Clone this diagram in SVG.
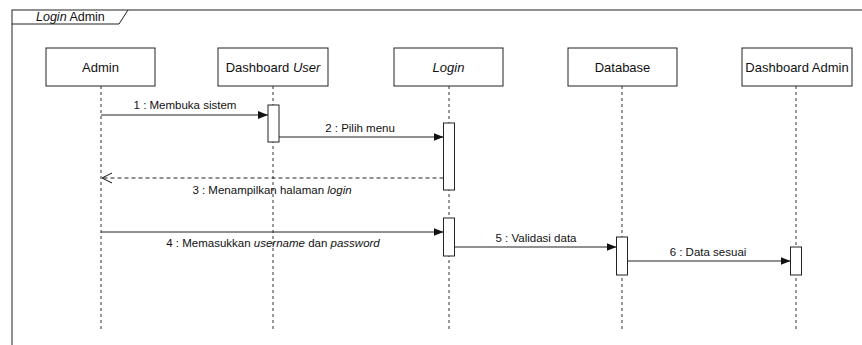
<svg xmlns="http://www.w3.org/2000/svg" width="862" height="345" viewBox="0 0 862 345">
<style>
.box{fill:#fff;stroke:#222;stroke-width:1}
.act{fill:#fff;stroke:#222;stroke-width:1}
.life{stroke:#333;stroke-width:1;stroke-dasharray:3 3;fill:none}
.msg{stroke:#222;stroke-width:1;fill:none}
.ret{stroke:#222;stroke-width:1;fill:none;stroke-dasharray:4 3}
.nl{font-family:"Liberation Sans",Arial,sans-serif;font-size:13px;fill:#111;text-anchor:middle}
.ml{font-family:"Liberation Sans",Arial,sans-serif;font-size:11.5px;fill:#111;text-anchor:middle}
</style>
<defs>
<marker id="fill" viewBox="0 0 10 10" refX="10" refY="5" markerWidth="10" markerHeight="10" markerUnits="userSpaceOnUse" orient="auto">
<path d="M0,1 L10,5 L0,9 Z" fill="#111"/>
</marker>
<marker id="open" viewBox="0 0 12 12" refX="11" refY="6" markerWidth="12" markerHeight="12" markerUnits="userSpaceOnUse" orient="auto">
<path d="M1,1 L11,6 L1,11" fill="none" stroke="#111" stroke-width="1"/>
</marker>
</defs>
<rect width="862" height="345" fill="#fff"/>
<g id="frame">
<rect x="12" y="10" width="870" height="360" fill="none" stroke="#222" stroke-width="1"/>
<path d="M12,24 L119,24 L128,10" fill="none" stroke="#222" stroke-width="1"/>
<text x="36" y="20.5" font-family="Liberation Sans,Arial,sans-serif" font-size="12.5" fill="#111"><tspan font-style="italic">Login</tspan> Admin</text>
</g>
<g id="admin">
<line class="life" x1="101" y1="86" x2="101" y2="332"/>
<rect class="box" x="46" y="48" width="109" height="38"/>
<text class="nl" x="100.5" y="71.5">Admin</text>
</g>
<g id="dashboard-user">
<line class="life" x1="273" y1="86" x2="273" y2="332"/>
<rect class="box" x="218" y="48" width="110" height="38"/>
<text class="nl" x="273" y="71.5">Dashboard <tspan font-style="italic">User</tspan></text>
<rect class="act" x="268" y="105" width="11" height="37"/>
</g>
<g id="login">
<line class="life" x1="449" y1="86" x2="449" y2="332"/>
<rect class="box" x="394" y="48" width="109" height="38"/>
<text class="nl" x="448.5" y="71.5" font-style="italic">Login</text>
<rect class="act" x="443.5" y="123" width="11" height="67"/>
<rect class="act" x="443.5" y="218" width="11" height="38"/>
</g>
<g id="database">
<line class="life" x1="622" y1="86" x2="622" y2="332"/>
<rect class="box" x="568" y="48" width="109" height="38"/>
<text class="nl" x="622.5" y="71.5">Database</text>
<rect class="act" x="616.5" y="237" width="11" height="38"/>
</g>
<g id="dashboard-admin">
<line class="life" x1="796" y1="86" x2="796" y2="332"/>
<rect class="box" x="742" y="48" width="110" height="38"/>
<text class="nl" x="797" y="71.5">Dashboard Admin</text>
<rect class="act" x="790.5" y="247" width="11" height="28"/>
</g>
<g id="connectors">
<line class="msg" x1="101" y1="115" x2="268" y2="115" marker-end="url(#fill)"/>
<text class="ml" x="185" y="109">1 : Membuka sistem</text>
<line class="msg" x1="279" y1="137" x2="443.5" y2="137" marker-end="url(#fill)"/>
<text class="ml" x="360" y="132">2 : Pilih menu</text>
<line class="ret" x1="443.5" y1="178" x2="102" y2="178" marker-end="url(#open)"/>
<text class="ml" x="272" y="194">3 : Menampilkan halaman <tspan font-style="italic">login</tspan></text>
<line class="msg" x1="101" y1="232" x2="443.5" y2="232" marker-end="url(#fill)"/>
<text class="ml" x="273" y="247">4 : Memasukkan <tspan font-style="italic">username</tspan> dan <tspan font-style="italic">password</tspan></text>
<line class="msg" x1="454.5" y1="247" x2="616.5" y2="247" marker-end="url(#fill)"/>
<text class="ml" x="536" y="242">5 : Validasi data</text>
<line class="msg" x1="627.5" y1="261" x2="790.5" y2="261" marker-end="url(#fill)"/>
<text class="ml" x="708" y="256">6 : Data sesuai</text>
</g>
</svg>
